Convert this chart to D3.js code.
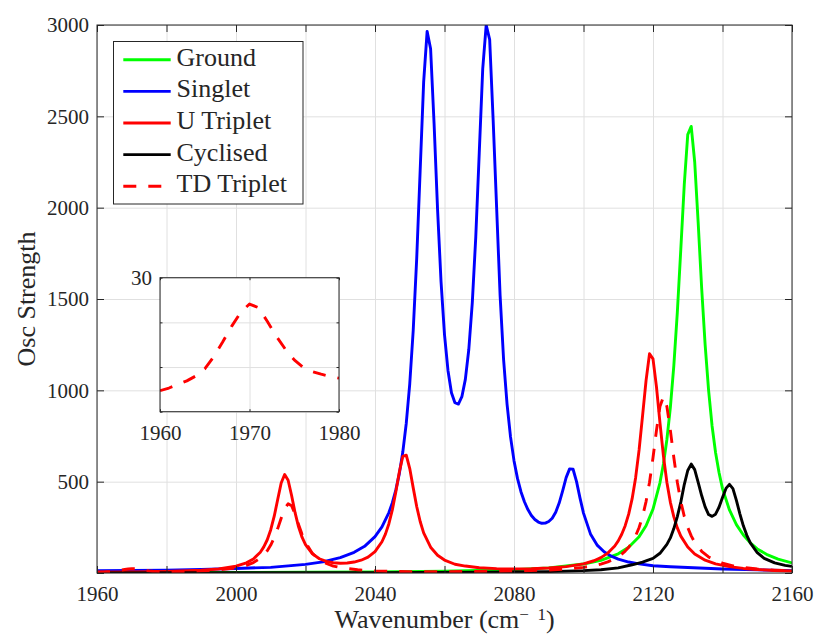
<!DOCTYPE html>
<html>
<head>
<meta charset="utf-8">
<script src="https://cdn.jsdelivr.net/npm/d3@7"></script>
<style>
  html, body { margin: 0; padding: 0; background: #ffffff; }
  svg text { font-family: "Liberation Serif", "Times New Roman", serif; fill: #262626; }
</style>
</head>
<body>
<svg id="chart" width="815" height="634"></svg>
<script>
// ---- Spectra (wavenumber in cm^-1, oscillator strength) ----
const groundX = [1960,1980,2000,2020,2040,2060,2080,2090,2100,2105,2110,2113,2116,2118,2120,2122,2123,2124,2125,2126,2127,2128,2129,2130,2131,2132,2133,2134,2135,2136,2137,2138,2139,2140,2142,2144,2146,2148,2150,2153,2156,2160];
const groundY = [1.6,2.1,2.7,3.8,5.7,9.3,18,28,49,69,105,141,199,259,350,494,597,731,907,1136,1427,1772,2127,2400,2445,2250,1918,1560,1250,1000,805,660,550,462,345,265,208,165,132,99,76,55];

const singletX = [1960,1970,1980,1990,2000,2010,2020,2025,2030,2034,2037,2040,2042,2044,2045,2046,2047,2048,2049,2050,2051,2052,2053,2054,2055,2056,2057,2058,2059,2060,2061,2062,2063,2064,2065,2066,2067,2068,2069,2070,2071,2072,2073,2074,2075,2076,2077,2078,2079,2080,2081,2082,2083,2084,2085,2086,2087,2088,2089,2090,2091,2092,2093,2094,2095,2096,2097,2098,2099,2100,2102,2104,2106,2108,2110,2113,2116,2120,2125,2130,2140,2150,2160];
const singletY = [12,14,16,20,25,31,47,61,84,113,146,199,252,331,385,455,544,662,820,1036,1329,1721,2205,2687,2965,2870,2461,1992,1596,1305,1109,987,932,925,965,1060,1225,1480,1840,2300,2760,3000,2920,2480,2000,1520,1170,925,745,615,518,445,390,347,315,293,279,272,273,282,300,333,383,450,522,570,568,500,410,328,214,151,115,92,76,60,50,40,34,30,22,17,13];

const uTripletX = [1960,1970,1980,1990,1995,2000,2003,2005,2007,2008,2009,2010,2011,2012,2013,2014,2015,2016,2017,2018,2019,2020,2022,2024,2026,2028,2030,2032,2034,2036,2038,2040,2042,2043,2044,2045,2046,2047,2048,2049,2050,2051,2052,2053,2054,2056,2058,2060,2063,2066,2070,2075,2080,2085,2090,2095,2100,2103,2105,2107,2109,2110,2111,2112,2113,2114,2115,2116,2117,2118,2119,2120,2121,2122,2123,2124,2125,2126,2127,2128,2130,2132,2135,2138,2142,2146,2150,2155,2160];
const uTripletY = [4,6,9,15,22,37,56,77,114,143,182,237,311,402,493,539,508,424,330,253,196,155,105,78,64,56,53,55,60,70,87,117,171,213,270,347,445,553,638,645,572,466,364,282,220,141,97,71,48,38,29,24,22,23,27,35,50,67,84,109,148,176,212,259,322,407,522,674,861,1053,1200,1172,1019,823,641,496,387,307,247,202,142,104,70,50,35,25,19,14,11];

const cyclisedX = [1960,2000,2040,2070,2090,2100,2105,2110,2114,2117,2120,2122,2124,2125,2126,2127,2128,2129,2130,2131,2132,2133,2134,2135,2136,2137,2138,2139,2140,2141,2142,2143,2144,2145,2146,2147,2148,2150,2152,2155,2158,2160];
const cyclisedY = [0.5,1,2,3.7,7.7,13,18,28,45,60,80,108,157,192,243,309,388,484,561,596,566,496,424,362,320,310,322,360,413,463,485,462,398,324,258,206,165,111,80,55,42,36];

const tdTripletX = [1960,1961,1962,1963,1964,1965,1966,1967,1968,1969,1970,1971,1972,1973,1974,1975,1976,1977,1978,1979,1980,1985,1990,1995,2000,2003,2005,2007,2009,2010,2011,2012,2013,2014,2015,2016,2017,2018,2019,2020,2022,2024,2026,2028,2030,2035,2040,2045,2050,2060,2070,2080,2090,2095,2100,2103,2105,2107,2109,2110,2111,2112,2113,2114,2115,2116,2117,2118,2119,2120,2121,2122,2123,2124,2125,2126,2127,2128,2129,2130,2131,2132,2134,2136,2138,2140,2143,2146,2150,2155,2160];
const tdTripletY = [4.7,5.3,6.1,6.9,8.0,9.6,12.3,15.6,19.1,22.2,24.1,23.3,20.2,16.9,14.0,11.6,9.9,9.0,8.4,7.9,7.5,8.6,11.4,17,28.5,42,57,81,122,153,193,243,300,353,379,368,323,266,212,168,107,73,52,38,30,17.5,11.7,8.5,7,7.5,8.2,10.4,16,21.6,31,40,49,61,78,89,103,120,141,168,203,249,310,391,497,631,781,911,965,911,781,631,497,391,310,249,203,168,119,88,68,54,39,30,22,16,12];

// ---- Axis ticks and legend entries ----
const xTicks = [1960,1980,2000,2020,2040,2060,2080,2100,2120,2140,2160];
const xTickLabels = ["1960","","2000","","2040","","2080","","2120","","2160"];
const yTicks = [0,500,1000,1500,2000,2500,3000];
const yTickLabels = ["","500","1000","1500","2000","2500","3000"];
const insetXTicks = [1960,1970,1980];
const insetXTickLabels = ["1960","1970","1980"];
const insetYTicks = [0,10,20,30];
const insetYTickLabels = ["","","","30"];
const seriesNames = ["Ground","Singlet","U Triplet","Cyclised","TD Triplet"];
const seriesColors = ["#00ff00","#0000ff","#ff0000","#000000","#ff0000"];
const seriesDashes = [null,null,null,null,"13,12"];

const series = [
  d3.zip(groundX, groundY),
  d3.zip(singletX, singletY),
  d3.zip(uTripletX, uTripletY),
  d3.zip(cyclisedX, cyclisedY),
  d3.zip(tdTripletX, tdTripletY)
];

const svg = d3.select("#chart");
const axisColor = "#262626";
const gridColor = "#e0e0e0";
const lineWidth = 2.9;

// ---- Main axes ----
const plot = {left: 97, right: 792, top: 25, bottom: 573};
const x = d3.scaleLinear().domain([1960, 2160]).range([plot.left, plot.right]);
const y = d3.scaleLinear().domain([0, 3000]).range([plot.bottom, plot.top]);

function drawAxes(g, xs, ys, box, opts) {
  // white background and grid
  g.append("rect").attr("x", box.left).attr("y", box.top)
    .attr("width", box.right - box.left).attr("height", box.bottom - box.top)
    .attr("fill", "#ffffff");
  const gx = g.append("g").attr("transform", `translate(0,${box.bottom})`)
    .call(d3.axisBottom(xs).tickValues(opts.xTicks).tickSize(-(box.bottom - box.top)).tickFormat(""));
  const gy = g.append("g").attr("transform", `translate(${box.left},0)`)
    .call(d3.axisLeft(ys).tickValues(opts.yTicks).tickSize(-(box.right - box.left)).tickFormat(""));
  [gx, gy].forEach(a => {
    a.select(".domain").remove();
    a.selectAll(".tick line").attr("stroke", gridColor).attr("stroke-width", 1);
  });
}

function drawFrame(g, xs, ys, box, opts) {
  // inward ticks on all four sides, labels on bottom and left, box outline
  const tl = opts.tickLen;
  const bottom = g.append("g").attr("transform", `translate(0,${box.bottom})`)
    .call(d3.axisBottom(xs).tickValues(opts.xTicks).tickSize(-tl).tickPadding(opts.xPad)
      .tickFormat((d, i) => opts.xLabels[i]));
  const top = g.append("g").attr("transform", `translate(0,${box.top})`)
    .call(d3.axisTop(xs).tickValues(opts.xTicks).tickSize(-tl).tickFormat(""));
  const left = g.append("g").attr("transform", `translate(${box.left},0)`)
    .call(d3.axisLeft(ys).tickValues(opts.yTicks).tickSize(-tl).tickPadding(opts.yPad)
      .tickFormat((d, i) => opts.yLabels[i]));
  const right = g.append("g").attr("transform", `translate(${box.right},0)`)
    .call(d3.axisRight(ys).tickValues(opts.yTicks).tickSize(-tl).tickFormat(""));
  [bottom, top, left, right].forEach(a => {
    a.select(".domain").remove();
    a.selectAll(".tick line").attr("stroke", axisColor).attr("stroke-width", 1);
    a.selectAll(".tick text").attr("font-size", opts.fontSize + "px")
      .attr("font-family", null).attr("fill", axisColor);
  });
  bottom.selectAll(".tick text").attr("dy", "0.71em");
  left.selectAll(".tick text").attr("dy", "0.33em");
  g.append("rect").attr("x", box.left).attr("y", box.top)
    .attr("width", box.right - box.left).attr("height", box.bottom - box.top)
    .attr("fill", "none").attr("stroke", axisColor).attr("stroke-width", 1);
}

function drawLines(g, xs, ys, box, clipId, data) {
  g.append("clipPath").attr("id", clipId).append("rect")
    .attr("x", box.left).attr("y", box.top)
    .attr("width", box.right - box.left).attr("height", box.bottom - box.top);
  const line = d3.line().x(d => xs(d[0])).y(d => ys(d[1]));
  g.append("g").attr("clip-path", `url(#${clipId})`)
    .selectAll("path").data(data).join("path")
    .attr("d", d => line(d.values))
    .attr("fill", "none")
    .attr("stroke", d => d.color)
    .attr("stroke-width", lineWidth)
    .attr("stroke-linejoin", "round")
    .attr("stroke-dasharray", d => d.dash);
}

const main = svg.append("g");
const mainOpts = {
  xTicks: xTicks, yTicks: yTicks, xLabels: xTickLabels, yLabels: yTickLabels,
  tickLen: 7, xPad: 13, yPad: 8, fontSize: 21
};
drawAxes(main, x, y, plot, mainOpts);
drawLines(main, x, y, plot, "clip-main", series.map((v, i) => ({
  values: v, color: seriesColors[i], dash: seriesDashes[i]
})));
drawFrame(main, x, y, plot, mainOpts);

// ---- Axis titles ----
const xTitle = svg.append("text")
  .attr("x", (plot.left + plot.right) / 2).attr("y", 628)
  .attr("text-anchor", "middle").attr("font-size", "26px");
xTitle.append("tspan").text("Wavenumber (cm");
xTitle.append("tspan").attr("font-size", "17px").attr("dy", "-8").text("\u2212\u00a0\u00a01");
xTitle.append("tspan").attr("dy", "8").text(")");

svg.append("text")
  .attr("transform", `translate(35,${(plot.top + plot.bottom) / 2}) rotate(-90)`)
  .attr("text-anchor", "middle").attr("font-size", "26px")
  .text("Osc Strength");

// ---- Legend ----
const legendBox = {left: 113.5, top: 41.5, right: 303, bottom: 204};
const legend = svg.append("g");
legend.append("rect")
  .attr("x", legendBox.left).attr("y", legendBox.top)
  .attr("width", legendBox.right - legendBox.left).attr("height", legendBox.bottom - legendBox.top)
  .attr("fill", "#ffffff").attr("stroke", axisColor).attr("stroke-width", 1);
const rowY = d3.scalePoint().domain(seriesNames).range([65.7, 192.3]);
const rows = legend.selectAll("g.row").data(seriesNames).join("g").attr("class", "row")
  .attr("transform", d => `translate(0,${rowY(d)})`);
rows.append("line")
  .attr("x1", 123.3).attr("x2", 170.7).attr("y1", -6).attr("y2", -6)
  .attr("stroke", (d, i) => seriesColors[i])
  .attr("stroke-width", lineWidth)
  .attr("stroke-dasharray", (d, i) => seriesDashes[i]);
rows.append("text").attr("x", 176.5).attr("y", 0)
  .attr("font-size", "26px").attr("fill", "#000000").text(d => d);

// ---- Inset: TD Triplet detail ----
const insetBox = {left: 160, right: 339, top: 277.7, bottom: 411.7};
const xi = d3.scaleLinear().domain([1960, 1980]).range([insetBox.left, insetBox.right]);
const yi = d3.scaleLinear().domain([0, 30]).range([insetBox.bottom, insetBox.top]);
const inset = svg.append("g");
const insetOpts = {
  xTicks: insetXTicks, yTicks: insetYTicks, xLabels: insetXTickLabels, yLabels: insetYTickLabels,
  tickLen: 2.5, xPad: 13, yPad: 8, fontSize: 21
};
drawAxes(inset, xi, yi, insetBox, insetOpts);
drawLines(inset, xi, yi, insetBox, "clip-inset", [{
  values: d3.zip(tdTripletX, tdTripletY).filter(d => d[0] <= 1982),
  color: seriesColors[4], dash: seriesDashes[4]
}]);
drawFrame(inset, xi, yi, insetBox, insetOpts);
</script>
</body>
</html>
